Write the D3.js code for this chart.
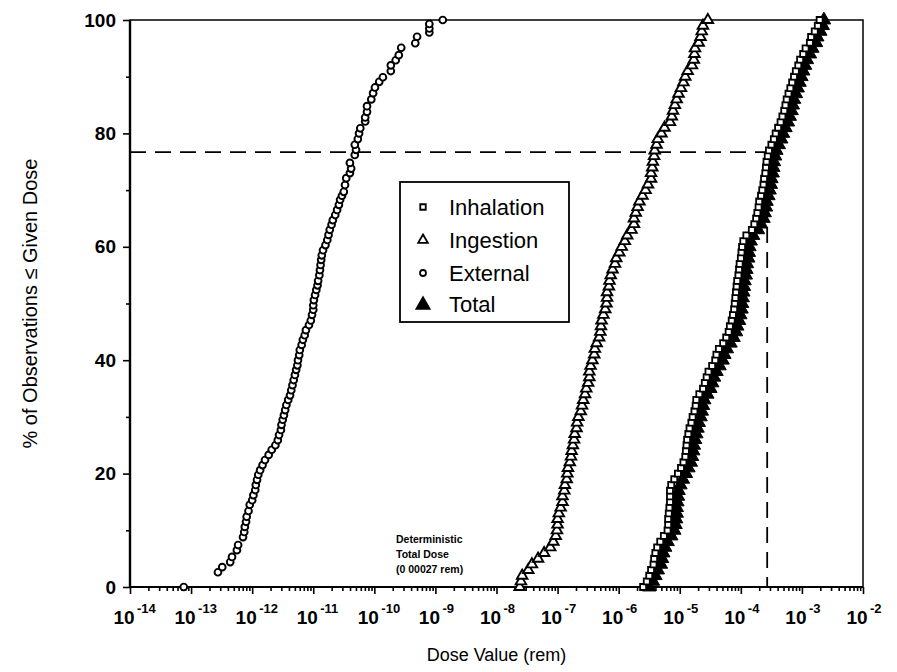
<!DOCTYPE html>
<html>
<head>
<meta charset="utf-8">
<script src="https://cdn.jsdelivr.net/npm/d3@7/dist/d3.min.js"></script>
<style>
  html, body { margin: 0; padding: 0; background: #fff; }
  svg { display: block; }
  text { font-family: "Liberation Sans", Arial, Helvetica, sans-serif; fill: #000; }
</style>
</head>
<body>
<svg id="chart" width="897" height="672"></svg>
<script>
// Cumulative distribution of dose by exposure pathway (log10 of dose in rem)
const percentRank = [
  0,1,2,3,4,5,6,7,8,9,10,11,12,13,14,15,16,17,18,19,20,21,22,23,24,25,26,27,28,29,
  30,31,32,33,34,35,36,37,38,39,40,41,42,43,44,45,46,47,48,49,50,51,52,53,54,55,56,57,58,59,
  60,61,62,63,64,65,66,67,68,69,70,71,72,73,74,75,76,77,78,79,80,81,82,83,84,85,86,87,88,89,
  90,91,92,93,94,95,96,97,98,99,100
];

const ingestionExp = [
  -7.62,-7.60,-7.58,-7.48,-7.42,-7.32,-7.22,-7.12,-7.07,-7.03,
  -7.01,-7.00,-7.00,-6.98,-6.95,-6.92,-6.92,-6.89,-6.88,-6.85,
  -6.84,-6.83,-6.80,-6.78,-6.77,-6.75,-6.73,-6.72,-6.69,-6.68,
  -6.66,-6.62,-6.60,-6.58,-6.55,-6.53,-6.50,-6.48,-6.48,-6.46,
  -6.43,-6.40,-6.39,-6.36,-6.32,-6.30,-6.29,-6.28,-6.25,-6.22,
  -6.20,-6.19,-6.19,-6.16,-6.15,-6.13,-6.10,-6.06,-6.04,-5.99,
  -5.95,-5.90,-5.86,-5.79,-5.75,-5.75,-5.72,-5.69,-5.66,-5.61,
  -5.56,-5.52,-5.47,-5.47,-5.45,-5.44,-5.42,-5.41,-5.38,-5.36,
  -5.30,-5.25,-5.16,-5.13,-5.11,-5.08,-5.05,-5.02,-4.98,-4.94,
  -4.91,-4.87,-4.80,-4.77,-4.76,-4.75,-4.69,-4.66,-4.64,-4.62,
  -4.54
];

const inhalationExp = [
  -5.60,-5.54,-5.50,-5.47,-5.43,-5.42,-5.40,-5.37,-5.32,-5.26,
  -5.20,-5.19,-5.19,-5.18,-5.17,-5.16,-5.16,-5.16,-5.14,-5.09,
  -5.03,-4.98,-4.94,-4.91,-4.90,-4.89,-4.88,-4.86,-4.84,-4.81,
  -4.79,-4.76,-4.74,-4.73,-4.68,-4.62,-4.59,-4.56,-4.53,-4.47,
  -4.42,-4.40,-4.36,-4.29,-4.24,-4.20,-4.18,-4.15,-4.13,-4.11,
  -4.10,-4.09,-4.08,-4.07,-4.06,-4.04,-4.03,-4.02,-4.00,-3.99,
  -3.98,-3.96,-3.91,-3.82,-3.78,-3.75,-3.73,-3.71,-3.70,-3.67,
  -3.65,-3.63,-3.62,-3.60,-3.59,-3.58,-3.56,-3.54,-3.50,-3.46,
  -3.43,-3.39,-3.35,-3.32,-3.29,-3.27,-3.25,-3.22,-3.19,-3.16,
  -3.13,-3.10,-3.06,-3.03,-2.98,-2.94,-2.87,-2.85,-2.79,-2.74,
  -2.71
];

const totalExp = [
  -5.50,-5.44,-5.40,-5.36,-5.31,-5.29,-5.27,-5.24,-5.20,-5.14,
  -5.09,-5.07,-5.06,-5.05,-5.05,-5.04,-5.03,-5.02,-4.99,-4.95,
  -4.90,-4.86,-4.82,-4.80,-4.78,-4.77,-4.75,-4.73,-4.71,-4.69,
  -4.66,-4.64,-4.62,-4.60,-4.55,-4.50,-4.47,-4.44,-4.40,-4.35,
  -4.30,-4.27,-4.23,-4.17,-4.12,-4.08,-4.06,-4.03,-4.01,-3.99,
  -3.98,-3.97,-3.96,-3.95,-3.94,-3.92,-3.91,-3.90,-3.88,-3.87,
  -3.86,-3.84,-3.80,-3.72,-3.67,-3.63,-3.61,-3.59,-3.58,-3.55,
  -3.53,-3.51,-3.50,-3.48,-3.47,-3.46,-3.44,-3.42,-3.38,-3.34,
  -3.31,-3.27,-3.23,-3.20,-3.17,-3.15,-3.13,-3.10,-3.07,-3.04,
  -3.01,-2.98,-2.95,-2.92,-2.87,-2.83,-2.77,-2.75,-2.70,-2.66,
  -2.64
];

// External dose observations: [percent, log10 dose]
const externalPoints = [
  [0,-13.12],[2.6,-12.56],[3.5,-12.49],[4.4,-12.36],[5.3,-12.33],[6.5,-12.25],[7.4,-12.23],
  [8.8,-12.15],[9.7,-12.13],[10.6,-12.12],[11.5,-12.10],[12.4,-12.09],[13.4,-12.06],[14.5,-12.04],
  [15.3,-12.00],[16.2,-11.98],[17.1,-11.95],[18.0,-11.94],[18.9,-11.92],[19.8,-11.90],[20.6,-11.87],
  [21.5,-11.83],[22.4,-11.79],[23.3,-11.73],[24.2,-11.68],[25.0,-11.62],[25.9,-11.58],[26.8,-11.56],
  [27.7,-11.53],[28.6,-11.52],[29.5,-11.50],[30.3,-11.48],[31.2,-11.46],[32.1,-11.44],[33.0,-11.41],
  [33.8,-11.38],[34.7,-11.36],[35.6,-11.34],[36.5,-11.32],[37.4,-11.30],[38.3,-11.28],[39.1,-11.26],
  [40.0,-11.25],[40.9,-11.23],[41.8,-11.22],[42.7,-11.19],[43.6,-11.17],[44.4,-11.14],[45.3,-11.12],
  [46.2,-11.07],[47.0,-11.04],[48.0,-11.02],[48.9,-11.00],[49.7,-11.00],[50.6,-10.99],[51.5,-10.97],
  [52.4,-10.95],[53.2,-10.93],[54.0,-10.92],[55.0,-10.90],[55.9,-10.89],[56.8,-10.88],[57.7,-10.87],
  [58.5,-10.86],[59.4,-10.84],[60.3,-10.80],[61.2,-10.77],[62.1,-10.75],[63.0,-10.73],[63.9,-10.70],
  [64.7,-10.68],[65.6,-10.64],[66.5,-10.61],[67.4,-10.58],[68.3,-10.56],[69.0,-10.53],[69.7,-10.50],
  [70.9,-10.48],[72.1,-10.46],[73.0,-10.40],[73.8,-10.38],[74.8,-10.40],[76.2,-10.32],[77.1,-10.30],
  [78.0,-10.32],[79.0,-10.27],[80.0,-10.25],[80.9,-10.23],[82.1,-10.15],[82.8,-10.15],[83.8,-10.12],
  [84.8,-10.12],[86.0,-10.05],[87.1,-10.02],[88.1,-9.99],[89.1,-9.92],[89.9,-9.86],[91.0,-9.73],
  [92.0,-9.73],[92.9,-9.65],[93.8,-9.60],[95.1,-9.56],[95.9,-9.33],[97.05,-9.30],[97.8,-9.10],
  [98.5,-9.10],[99.3,-9.10],[100,-8.88]
];

// Deterministic total dose and its percentile
const deterministicDose = 0.00027;
const deterministicPercent = 76.7;

const decadeExponents = [-14,-13,-12,-11,-10,-9,-8,-7,-6,-5,-4,-3,-2];
const percentTicks = [0,20,40,60,80,100];
const percentMinorTicks = [10,30,50,70,90];

const legendLabels = ["Inhalation","Ingestion","External","Total"];
const noteLines = ["Deterministic","Total Dose","(0 00027 rem)"];

const svg = d3.select("#chart");
const plotLeft = 130, plotRight = 863, plotTop = 20, plotBottom = 587;

const x = d3.scaleLog().domain([1e-14, 1e-2]).range([plotLeft, plotRight]);
const y = d3.scaleLinear().domain([0, 100]).range([plotBottom, plotTop]);

// Minor log ticks along the x axis
const minorX = [];
decadeExponents.slice(0, -1).forEach(e => {
  for (let m = 2; m <= 9; m++) minorX.push(m * Math.pow(10, e));
});

const gx = svg.append("g").attr("transform", `translate(0,${plotBottom})`);
gx.call(d3.axisBottom(x).tickValues(minorX).tickSize(4).tickFormat(""))
  .call(g => g.select(".domain").remove());
gx.append("g").call(d3.axisBottom(x).tickValues(decadeExponents.map(e => Math.pow(10, e))).tickSize(7).tickFormat(""))
  .call(g => g.select(".domain").remove());
gx.selectAll("line").attr("stroke", "#000").attr("stroke-width", 1.6);

const gy = svg.append("g").attr("transform", `translate(${plotLeft},0)`);
gy.call(d3.axisLeft(y).tickValues(percentMinorTicks).tickSize(4).tickFormat(""))
  .call(g => g.select(".domain").remove());
gy.append("g").call(d3.axisLeft(y).tickValues(percentTicks).tickSize(7).tickFormat(""))
  .call(g => g.select(".domain").remove());
gy.selectAll("line").attr("stroke", "#000").attr("stroke-width", 1.6);

// Plot frame
svg.append("rect")
  .attr("x", plotLeft).attr("y", plotTop)
  .attr("width", plotRight - plotLeft).attr("height", plotBottom - plotTop)
  .attr("fill", "none").attr("stroke", "#000").attr("stroke-width", 1.5);
svg.append("line").attr("x1", plotLeft).attr("x2", plotLeft).attr("y1", plotTop).attr("y2", plotBottom)
  .attr("stroke", "#000").attr("stroke-width", 2.4);
svg.append("line").attr("x1", plotLeft).attr("x2", plotRight).attr("y1", plotBottom).attr("y2", plotBottom)
  .attr("stroke", "#000").attr("stroke-width", 2.2);

// Tick labels
svg.append("g").selectAll("text").data(percentTicks).join("text")
  .attr("x", plotLeft - 14).attr("y", d => y(d) + 6.5)
  .attr("text-anchor", "end")
  .style("font-size", "19px").style("font-weight", "bold")
  .text(d => d);

const xl = svg.append("g").selectAll("g").data(decadeExponents).join("g")
  .attr("transform", e => `translate(${x(Math.pow(10, e))},0)`);
xl.append("text").attr("x", -6).attr("y", 624).attr("text-anchor", "middle")
  .style("font-size", "19px").style("font-weight", "bold").text("10");
xl.append("text").attr("x", 7).attr("y", 613).attr("text-anchor", "start")
  .style("font-size", "13px").style("font-weight", "bold").text(e => e);

// Axis titles
svg.append("text").attr("x", (plotLeft + plotRight) / 2).attr("y", 661)
  .attr("text-anchor", "middle").style("font-size", "18px").text("Dose Value (rem)");
svg.append("text").attr("transform", `translate(37,${(plotTop + plotBottom) / 2}) rotate(-90)`)
  .attr("text-anchor", "middle").style("font-size", "20px").text("% of Observations \u2264 Given Dose");

// Deterministic dose reference lines
const xd = x(deterministicDose), yd = y(deterministicPercent);
svg.append("line").attr("x1", plotLeft).attr("x2", xd).attr("y1", yd).attr("y2", yd)
  .attr("stroke", "#000").attr("stroke-width", 1.8).attr("stroke-dasharray", "16,9");
svg.append("line").attr("x1", xd).attr("x2", xd).attr("y1", yd).attr("y2", plotBottom)
  .attr("stroke", "#000").attr("stroke-width", 1.8).attr("stroke-dasharray", "16,9");

svg.append("g").selectAll("text").data(noteLines).join("text")
  .attr("x", 396).attr("y", (d, i) => 543 + i * 15)
  .style("font-size", "10.5px").style("font-weight", "bold")
  .text(d => d);

// Series markers
const triPath = d3.symbol().type(d3.symbolTriangle);
const sqPath = d3.symbol().type(d3.symbolSquare);

const ing = percentRank.map((p, i) => [p, ingestionExp[i]]);
const inh = percentRank.map((p, i) => [p, inhalationExp[i]]);
const tot = percentRank.map((p, i) => [p, totalExp[i]]);

const marks = svg.append("g");

marks.append("g").selectAll("circle").data(externalPoints).join("circle")
  .attr("cx", d => x(Math.pow(10, d[1]))).attr("cy", d => y(d[0])).attr("r", 3.4)
  .attr("fill", "#fff").attr("stroke", "#000").attr("stroke-width", 1.9);

marks.append("g").selectAll("path").data(ing).join("path")
  .attr("d", triPath.size(48))
  .attr("transform", d => `translate(${x(Math.pow(10, d[1]))},${y(d[0])})`)
  .attr("fill", "#fff").attr("stroke", "#000").attr("stroke-width", 1.9);

marks.append("g").selectAll("path").data(tot).join("path")
  .attr("d", triPath.size(80))
  .attr("transform", d => `translate(${x(Math.pow(10, d[1]))},${y(d[0])})`)
  .attr("fill", "#000").attr("stroke", "#000").attr("stroke-width", 1);

marks.append("g").selectAll("path").data(inh).join("path")
  .attr("d", sqPath.size(36))
  .attr("transform", d => `translate(${x(Math.pow(10, d[1]))},${y(d[0])})`)
  .attr("fill", "#fff").attr("stroke", "#000").attr("stroke-width", 1.8);

// Legend
const lg = svg.append("g");
lg.append("rect").attr("x", 400).attr("y", 182).attr("width", 169).attr("height", 140)
  .attr("fill", "#fff").attr("stroke", "#000").attr("stroke-width", 1.8);
const legendY = [208, 241, 274, 305];
const legendSym = [
  g => g.append("path").attr("d", sqPath.size(30)).attr("fill", "#fff").attr("stroke", "#000").attr("stroke-width", 1.8),
  g => g.append("path").attr("d", triPath.size(40)).attr("fill", "#fff").attr("stroke", "#000").attr("stroke-width", 1.8),
  g => g.append("circle").attr("r", 3).attr("fill", "#fff").attr("stroke", "#000").attr("stroke-width", 1.8),
  g => g.append("path").attr("d", triPath.size(115)).attr("fill", "#000")
];
legendLabels.forEach((name, i) => {
  const row = lg.append("g").attr("transform", `translate(0,${legendY[i]})`);
  legendSym[i](row.append("g").attr("transform", `translate(423,${i === 3 ? 0 : -1})`));
  row.append("text").attr("x", 449).attr("y", 7).style("font-size", "22px").text(name);
});
</script>
</body>
</html>
